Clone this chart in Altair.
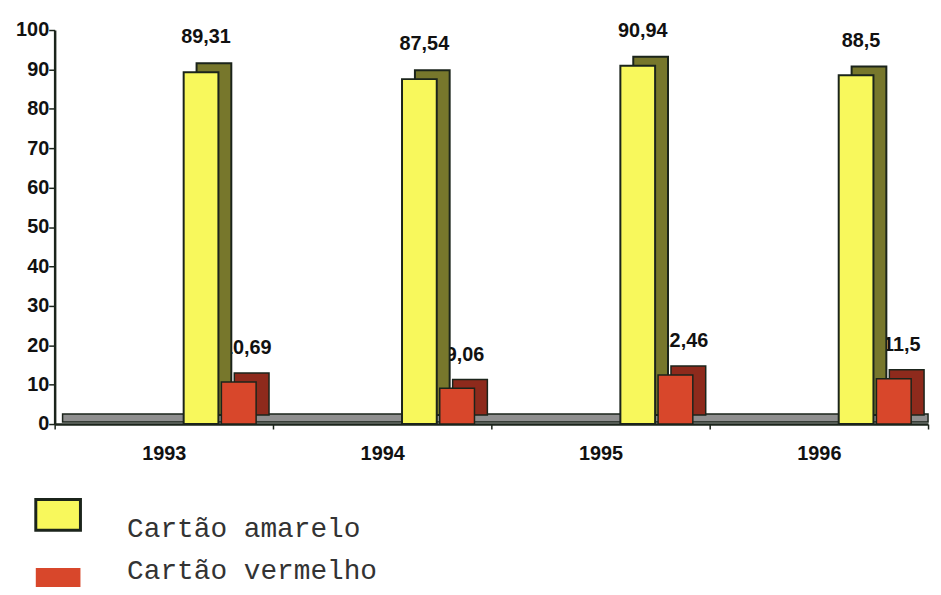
import altair as alt
import pandas as pd

years = ["1993", "1994", "1995", "1996"]
amarelo = [89.31, 87.54, 90.94, 88.5]
vermelho = [10.69, 9.06, 12.46, 11.5]
amarelo_labels = ["89,31", "87,54", "90,94", "88,5"]
vermelho_labels = ["10,69", "9,06", "12,46", "11,5"]
series = ["Cartão amarelo", "Cartão vermelho"]
y_ticks = [0, 10, 20, 30, 40, 50, 60, 70, 80, 90, 100]

df_a = pd.DataFrame({"ano": years, "valor": amarelo, "rotulo": amarelo_labels})
df_v = pd.DataFrame({"ano": years, "valor": vermelho, "rotulo": vermelho_labels})

W, H = 880, 397
AXFONT = "'Liberation Sans', Arial, sans-serif"
MONO = "'Liberation Mono', 'Courier New', monospace"
DARK = "#1b241b"

X = alt.X("ano:N", title=None,
          scale=alt.Scale(paddingInner=0, paddingOuter=0),
          axis=alt.Axis(labelAngle=0, tickBand="extent", labelFont=AXFONT,
                        labelFontSize=20, labelFontWeight="bold", labelColor="#111",
                        labelPadding=15, tickSize=5, tickColor=DARK, tickWidth=1.5,
                        domainColor=DARK, domainWidth=2.5, title=None))
Y = alt.Y("valor:Q", title=None,
          scale=alt.Scale(domain=[0, 100], nice=False),
          axis=alt.Axis(values=y_ticks, grid=False, labelFont=AXFONT, labelFontSize=20,
                        labelFontWeight="bold", labelColor="#111", labelPadding=0,
                        tickSize=6, tickColor=DARK, tickWidth=1.5,
                        domainColor=DARK, domainWidth=2.5, title=None))

one = pd.DataFrame({"s": [0]})

floor = alt.Chart(one).mark_rect(color="#8f8f8f", stroke=DARK, strokeWidth=1.5).encode(
    x=alt.value(8), x2=alt.value(W), y=alt.value(H - 10), y2=alt.value(H - 2))

base_a = alt.Chart(df_a)
base_v = alt.Chart(df_v)

BW = 35
OA = 37.5
OV = 75.5
DX = 13
DY = -9

lab_v = base_v.mark_text(font=AXFONT, fontSize=20, fontWeight="bold", color="#111",
                         baseline="middle", xOffset=OV + 8, yOffset=-34).encode(
    x=X, y=Y, text="rotulo:N")

back_a = base_a.mark_bar(width=BW, xOffset=OA + DX, yOffset=DY, color="#77772c",
                         stroke=DARK, strokeWidth=2).encode(x=X, y=Y)
front_a = base_a.mark_bar(width=BW, xOffset=OA, color="#f8f85c",
                          stroke=DARK, strokeWidth=2).encode(x=X, y=Y)
back_v = base_v.mark_bar(width=BW, xOffset=OV + DX, yOffset=DY, color="#8e2a1c",
                         stroke=DARK, strokeWidth=1.5).encode(x=X, y=Y)
front_v = base_v.mark_bar(width=BW, xOffset=OV, color="#d8472b",
                          stroke=DARK, strokeWidth=1.5).encode(x=X, y=Y)

lab_a = base_a.mark_text(font=AXFONT, fontSize=20, fontWeight="bold", color="#111",
                         baseline="middle", xOffset=OA + 5, yOffset=-35).encode(
    x=X, y=Y, text="rotulo:N")

leg_a_box = alt.Chart(one).mark_rect(color="#f8f85c", stroke=DARK, strokeWidth=3).encode(
    x=alt.value(-19), x2=alt.value(26), y=alt.value(473), y2=alt.value(504))
leg_v_box = alt.Chart(one).mark_rect(color="#d8472b").encode(
    x=alt.value(-19), x2=alt.value(26), y=alt.value(542), y2=alt.value(575))
leg_a_txt = alt.Chart(pd.DataFrame({"s": [series[0]]})).mark_text(
    font=MONO, fontSize=28, color="#333",
    align="left", baseline="alphabetic").encode(x=alt.value(73), y=alt.value(511), text="s:N")
leg_v_txt = alt.Chart(pd.DataFrame({"s": [series[1]]})).mark_text(
    font=MONO, fontSize=28, color="#333",
    align="left", baseline="alphabetic").encode(x=alt.value(73), y=alt.value(553), text="s:N")

chart = alt.layer(floor, lab_v, back_a, front_a, back_v, front_v, lab_a,
                  leg_a_box, leg_v_box, leg_a_txt, leg_v_txt).properties(
    width=W, height=H,
    autosize=alt.AutoSizeParams(type="none"),
    padding={"left": 47, "top": 20, "right": 5, "bottom": 162},
    background="white",
).configure_view(stroke=None)

chart.save("out.html", embed_options={"renderer": "svg", "actions": False})
